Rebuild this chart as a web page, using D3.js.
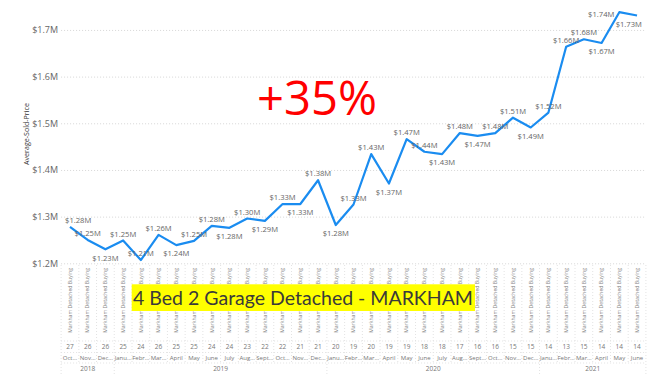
<!DOCTYPE html>
<html><head><meta charset="utf-8">
<script src="https://cdn.jsdelivr.net/npm/d3@7"></script>
<style>body{margin:0;background:#fff;} svg{display:block;font-family:"Open Sans",sans-serif;}</style>
</head><body><svg id="c" width="666" height="375"></svg>
<script>
// ---------------- data ----------------
const categoryName = "Markham Detached Buying";
const monthLabels = ["Oct…","Nov…","Dec…","Janu…","Febr…","Mar…","April","May","June","July","Aug…","Sept…","Oct…","Nov…","Dec…","Janu…","Febr…","Mar…","April","May","June","July","Aug…","Sept…","Oct…","Nov…","Dec…","Janu…","Febr…","Mar…","April","May","June"];
const dayLabels = [27,26,26,25,24,26,25,25,24,24,23,22,22,21,21,20,19,20,19,19,18,18,17,16,16,15,15,14,13,15,14,14,14];
const yearLabels = ["2018","2018","2018","2019","2019","2019","2019","2019","2019","2019","2019","2019","2019","2019","2019","2020","2020","2020","2020","2020","2020","2020","2020","2020","2020","2020","2020","2021","2021","2021","2021","2021","2021"];
const avgPrice = [1278000,1250000,1230000,1249000,1207000,1261000,1239000,1248000,1280000,1276000,1296000,1291000,1327000,1327000,1378000,1282000,1326000,1434000,1371000,1466000,1439000,1434000,1479000,1473000,1479000,1512000,1491000,1523000,1664000,1680000,1672000,1738000,1731000];
const yTicks = [1200000,1300000,1400000,1500000,1600000,1700000];
const yAxisTitle = "Average-Sold-Price";
const headline = "+35%";
const caption = "4 Bed 2 Garage Detached - MARKHAM";

// ---------------- layout ----------------
const plotL = 61.1, plotR = 645.9, plotT = 6.6, plotB = 263.3;
const svg = d3.select("#c");
const idx = d3.range(avgPrice.length);
const x = d3.scaleBand().domain(idx).range([plotL, plotR]).padding(0);
const y = d3.scaleLinear().domain([1200000, 1750000]).range([plotB, plotT]);
const cx = i => x(i) + x.bandwidth() / 2;

function fitFont(sel, base, target) {
  const w = sel.node().getComputedTextLength();
  sel.style("font-size", (base * target / w) + "px");
}

// y axis + gridlines
const yAxis = svg.append("g").attr("transform", `translate(${plotL},0)`)
  .call(d3.axisLeft(y).tickValues(yTicks).tickSize(-(plotR - plotL)).tickPadding(3)
    .tickFormat(d => "$" + d3.format(".1f")(d / 1e6) + "M"));
yAxis.select(".domain").remove();
yAxis.selectAll(".tick line").attr("stroke", "#d6d6d6").attr("stroke-dasharray", "1,2");
yAxis.selectAll(".tick text").attr("fill", "#666").style("font-size", "9px").style("font-family", "Open Sans");

// y axis title
const yt = svg.append("text").attr("transform", "translate(29,134) rotate(-90)")
  .attr("text-anchor", "middle").attr("fill", "#333").style("font-size", "6.5px")
  .text(yAxisTitle);
fitFont(yt, 6.5, 62);

// x axis hierarchical area: separators
const sep = svg.append("g").attr("stroke", "#e3e3e3").attr("stroke-dasharray", "1,2");
idx.forEach(i => {
  const xl = x(i);
  let bottom = 362;
  if (i === 0 || yearLabels[i] !== yearLabels[i - 1]) bottom = 375;
  sep.append("line").attr("x1", xl).attr("x2", xl).attr("y1", 265).attr("y2", bottom);
});
sep.append("line").attr("x1", plotR).attr("x2", plotR).attr("y1", 265).attr("y2", 375);
sep.append("line").attr("x1", plotL).attr("x2", plotR).attr("y1", 341).attr("y2", 341);
sep.append("line").attr("x1", plotL).attr("x2", plotR).attr("y1", 352.5).attr("y2", 352.5);
sep.append("line").attr("x1", plotL).attr("x2", plotR).attr("y1", 363).attr("y2", 363);

// category row (rotated)
const xAxis = svg.append("g").attr("transform", `translate(0,266)`)
  .call(d3.axisBottom(x).tickSize(0).tickFormat(() => categoryName));
xAxis.select(".domain").remove();
xAxis.selectAll(".tick text")
  .attr("transform", "rotate(-90)").attr("text-anchor", "end").attr("x", -2).attr("y", 0).attr("dy", "0.35em")
  .attr("fill", "#888").style("font-size", "6px").style("font-family", "Open Sans");
{
  const t = xAxis.select(".tick text");
  const w = t.node().getComputedTextLength();
  xAxis.selectAll(".tick text").style("font-size", (6 * 65 / w) + "px");
}

// day / month / year rows
svg.append("g").selectAll("text").data(idx).join("text")
  .attr("x", cx).attr("y", 347).attr("dy", "0.35em").attr("text-anchor", "middle")
  .attr("fill", "#777").style("font-size", "6.5px").text(i => dayLabels[i]);
svg.append("g").selectAll("text").data(idx).join("text")
  .attr("x", cx).attr("y", 358).attr("dy", "0.35em").attr("text-anchor", "middle")
  .attr("fill", "#777").style("font-size", "6px").text(i => monthLabels[i]);
const years = Array.from(new Set(yearLabels));
svg.append("g").selectAll("text").data(years).join("text")
  .attr("x", yr => {
    const ii = idx.filter(i => yearLabels[i] === yr);
    return (x(ii[0]) + x(ii[ii.length - 1]) + x.bandwidth()) / 2;
  })
  .attr("y", 368.5).attr("dy", "0.35em").attr("text-anchor", "middle")
  .attr("fill", "#777").style("font-size", "6.5px").text(d => d);

// line
svg.append("path").datum(idx)
  .attr("fill", "none").attr("stroke", "#1a8cf0").attr("stroke-width", 2.2)
  .attr("stroke-linejoin", "round")
  .attr("d", d3.line().x(cx).y(i => y(avgPrice[i])));

// data labels
const lbl = svg.append("g").attr("fill", "#666").style("font-size", "7.6px");
idx.forEach(i => {
  const v = avgPrice[i], prev = avgPrice[i - 1], next = avgPrice[i + 1];
  const isMin = (prev !== undefined && v <= prev) && (next === undefined || v < next);
  const px = cx(i), py = y(v);
  let pos = isMin ? "below" : "above";
  if (pos === "below" && py + 12.7 > plotB) pos = "above";
  if (pos === "above" && py - 10.5 < plotT) pos = "left";
  const t = lbl.append("text").attr("dy", "0.35em")
    .text("$" + d3.format(".2f")(v / 1e6) + "M");
  const w = t.node().getComputedTextLength();
  if (pos === "left") {
    t.attr("x", px - 5).attr("y", py + 1.7).attr("text-anchor", "end");
  } else {
    const lx = Math.max(plotL + 4 + w / 2, Math.min(plotR - 4 - w / 2, px));
    t.attr("x", lx).attr("y", pos === "above" ? py - 6.5 : py + 8.7).attr("text-anchor", "middle");
  }
});

// headline
const h = svg.append("text").attr("x", 317).attr("y", 115).attr("text-anchor", "middle")
  .attr("fill", "#f00").style("font-size", "48px").text(headline);
fitFont(h, 48, 120);

// caption box
svg.append("rect").attr("x", 131.7).attr("y", 284.3).attr("width", 343.3).attr("height", 26.7).attr("fill", "#ffff00");
const c = svg.append("text").attr("x", 303).attr("y", 305).attr("text-anchor", "middle")
  .attr("fill", "#3a3a3a").style("font-size", "20px").style("font-family", "Lato").text(caption);
fitFont(c, 20, 340);
</script></body></html>
